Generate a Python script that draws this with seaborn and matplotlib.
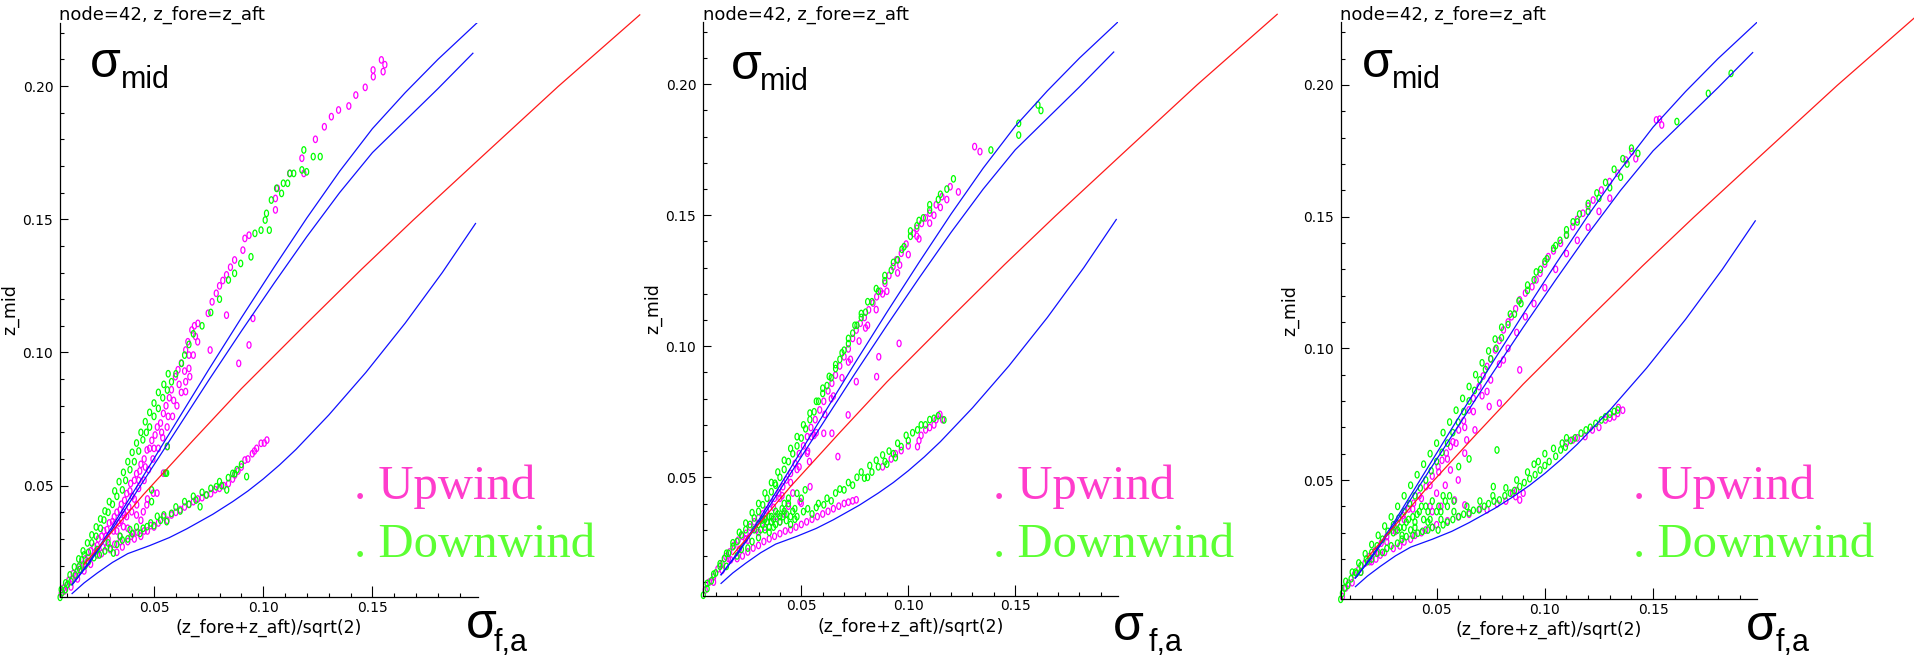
import matplotlib
matplotlib.use("Agg")
import matplotlib.pyplot as plt
import seaborn as sns
import pandas as pd
from matplotlib.path import Path
from matplotlib.transforms import Affine2D
from matplotlib.markers import MarkerStyle
from matplotlib.ticker import FixedLocator, MultipleLocator, FormatStrFormatter

# ---------------- text ----------------
title_text = "node=42, z_fore=z_aft"
xlabel_text = "(z_fore+z_aft)/sqrt(2)"
ylabel_text = "z_mid"
legend_labels = ["Upwind", "Downwind"]
x_major_ticks = [0.05, 0.10, 0.15]
y_major_ticks = [0.05, 0.10, 0.15, 0.20]

# ---------------- reference curves (same in all panels) ----------------
blue_a_x = [0.0125, 0.020, 0.030, 0.045, 0.060, 0.075, 0.090, 0.105, 0.120, 0.135, 0.150, 0.165, 0.180, 0.198]
blue_a_y = [0.0128, 0.0210, 0.0335, 0.0535, 0.0735, 0.0935, 0.1130, 0.1320, 0.1505, 0.1680, 0.1840, 0.1975, 0.2100, 0.2238]
blue_b_x = [0.0125, 0.020, 0.030, 0.045, 0.060, 0.075, 0.090, 0.105, 0.120, 0.135, 0.150, 0.165, 0.180, 0.196]
blue_b_y = [0.0128, 0.0205, 0.0325, 0.0515, 0.0705, 0.0895, 0.1080, 0.1260, 0.1435, 0.1600, 0.1750, 0.1870, 0.1990, 0.2123]
blue_c_x = [0.0125, 0.018, 0.024, 0.031, 0.038, 0.048, 0.057, 0.065, 0.077, 0.086, 0.093, 0.100, 0.1075, 0.115, 0.130, 0.147, 0.165, 0.182, 0.1972]
blue_c_y = [0.0095, 0.0135, 0.0172, 0.0212, 0.0245, 0.0275, 0.0305, 0.0338, 0.0393, 0.0440, 0.0480, 0.0525, 0.0578, 0.0636, 0.0765, 0.0925, 0.1110, 0.1300, 0.1484]
red_x = [0.018, 0.030, 0.045, 0.0679, 0.090, 0.120, 0.145, 0.1687, 0.200, 0.235, 0.2724]
red_y = [0.0205, 0.0320, 0.0465, 0.0670, 0.0864, 0.1110, 0.1312, 0.1497, 0.1734, 0.1998, 0.2267]

# ---------------- panel 1 scatter ----------------
up1 = [
    (0.0075,0.0095),(0.0085,0.0115),(0.0100,0.0125),(0.0110,0.0145),(0.0125,0.0150),(0.0130,0.0170),(0.0150,0.0180),
    (0.0160,0.0200),(0.0175,0.0205),(0.0185,0.0225),(0.0200,0.0230),(0.0210,0.0255),(0.0225,0.0270),(0.0240,0.0275),
    (0.0245,0.0300),(0.0260,0.0310),(0.0270,0.0330),(0.0285,0.0335),(0.0295,0.0360),(0.0310,0.0365),(0.0318,0.0383),
    (0.0330,0.0400),(0.0345,0.0410),(0.0350,0.0430),(0.0365,0.0445),(0.0375,0.0470),(0.0390,0.0480),(0.0393,0.0508),
    (0.0410,0.0520),(0.0420,0.0545),(0.0435,0.0555),(0.0440,0.0580),(0.0455,0.0600),(0.0468,0.0634),(0.0480,0.0640),
    (0.0490,0.0670),(0.0505,0.0690),(0.0515,0.0720),(0.0530,0.0735),(0.0543,0.0771),(0.0555,0.0800),(0.0570,0.0830),
    (0.0580,0.0860),(0.0598,0.0909),(0.0610,0.0935),(0.0625,0.0960),(0.0645,0.1009),(0.0655,0.1040),(0.0673,0.1084),
    (0.0685,0.1100),(0.0701,0.1109),(0.0748,0.1147),(0.0766,0.1190),(0.0785,0.1222),(0.0800,0.1250),(0.0815,0.1270),
    (0.0832,0.1291),(0.0850,0.1320),(0.0869,0.1347),(0.0907,0.1384),(0.0916,0.1428),(0.0935,0.1440),(0.1056,0.1535),
    (0.1056,0.1578),(0.1065,0.1616),(0.1121,0.1672),(0.1186,0.1672),(0.1177,0.1729),(0.1239,0.1800),(0.1280,0.1847),
    (0.1312,0.1885),(0.1345,0.1910),(0.1392,0.1925),(0.1424,0.1966),(0.1467,0.1995),(0.1504,0.2035),(0.1503,0.2060),
    (0.1549,0.2054),(0.1541,0.2098),(0.1557,0.2080),
    (0.0120,0.0120),(0.0150,0.0150),(0.0180,0.0180),(0.0210,0.0205),(0.0240,0.0240),(0.0265,0.0270),(0.0290,0.0300),
    (0.0315,0.0330),(0.0340,0.0360),(0.0365,0.0390),(0.0385,0.0420),(0.0410,0.0450),(0.0430,0.0490),(0.0455,0.0520),
    (0.0475,0.0560),(0.0495,0.0600),(0.0520,0.0640),(0.0540,0.0680),(0.0560,0.0720),(0.0585,0.0760),(0.0605,0.0800),
    (0.0625,0.0850),(0.0645,0.0890),(0.0660,0.0940),(0.0680,0.0990),(0.0700,0.1040),
    (0.0090,0.0105),(0.0140,0.0160),(0.0195,0.0215),(0.0235,0.0255),(0.0280,0.0310),(0.0320,0.0355),(0.0360,0.0400),
    (0.0400,0.0460),(0.0430,0.0520),(0.0460,0.0570),(0.0500,0.0640),(0.0535,0.0700),(0.0565,0.0760),(0.0590,0.0820),
    (0.0615,0.0880),(0.0640,0.0930),(0.0660,0.0990),(0.0690,0.1060),
    (0.0953,0.1128),(0.0832,0.1140),(0.0935,0.1028),(0.0888,0.0959),(0.0757,0.1009),(0.0664,0.0909),(0.0645,0.0853),
    (0.0561,0.0647),(0.0514,0.0472),(0.0360,0.0346),(0.0398,0.0402),(0.0421,0.0428),(0.0451,0.0402),(0.0467,0.0428),
    (0.0497,0.0472),(0.0543,0.0547),(0.0375,0.0384),(0.0344,0.0309),(0.0405,0.0321),(0.0330,0.0330),(0.0350,0.0370),
    (0.0380,0.0340),(0.0420,0.0390),(0.0440,0.0370),(0.0470,0.0450),
    (0.0300,0.0260),(0.0330,0.0250),(0.0355,0.0270),(0.0380,0.0290),(0.0410,0.0300),(0.0440,0.0310),(0.0470,0.0330),
    (0.0500,0.0345),(0.0543,0.0383),(0.0560,0.0370),(0.0600,0.0400),(0.0640,0.0420),(0.0680,0.0440),(0.0720,0.0455),
    (0.0760,0.0470),(0.0800,0.0490),(0.0841,0.0508),(0.0870,0.0540),(0.0900,0.0570),(0.0916,0.0596),(0.0950,0.0620),
    (0.0970,0.0640),(0.0990,0.0659),(0.1005,0.0660),(0.1017,0.0671),
    (0.0260,0.0245),(0.0285,0.0270),(0.0320,0.0280),(0.0345,0.0290),(0.0395,0.0310),(0.0425,0.0325),(0.0455,0.0330),
    (0.0485,0.0350),(0.0520,0.0360),(0.0580,0.0390),(0.0620,0.0410),(0.0660,0.0430),(0.0700,0.0450),(0.0740,0.0465),
    (0.0780,0.0485),(0.0820,0.0500),(0.0860,0.0525),(0.0885,0.0555),(0.0930,0.0600),(0.0960,0.0630),
]
dn1 = [
    (0.0070,0.0081),(0.0080,0.0100),(0.0095,0.0110),(0.0105,0.0130),(0.0120,0.0140),(0.0140,0.0165),(0.0155,0.0195),
    (0.0169,0.0221),(0.0180,0.0240),(0.0200,0.0250),(0.0215,0.0285),(0.0235,0.0310),(0.0255,0.0340),(0.0271,0.0371),
    (0.0290,0.0400),(0.0310,0.0430),(0.0330,0.0460),(0.0355,0.0484),(0.0370,0.0520),(0.0390,0.0560),(0.0410,0.0590),
    (0.0430,0.0630),(0.0449,0.0672),(0.0465,0.0700),(0.0480,0.0720),(0.0500,0.0760),(0.0520,0.0790),(0.0540,0.0830),
    (0.0561,0.0859),(0.0580,0.0890),(0.0600,0.0920),(0.0626,0.0959),(0.0640,0.0990),(0.0660,0.1030),(0.0680,0.1070),
    (0.0075,0.0110),(0.0095,0.0135),(0.0115,0.0165),(0.0135,0.0195),(0.0155,0.0225),(0.0175,0.0255),(0.0195,0.0285),
    (0.0215,0.0315),(0.0235,0.0345),(0.0255,0.0375),(0.0275,0.0405),(0.0295,0.0440),(0.0320,0.0480),(0.0340,0.0515),
    (0.0360,0.0550),(0.0380,0.0590),(0.0400,0.0625),(0.0420,0.0660),(0.0440,0.0700),(0.0460,0.0740),(0.0480,0.0775),
    (0.0500,0.0810),(0.0520,0.0850),(0.0545,0.0880),(0.0565,0.0920),
    (0.0720,0.1100),(0.0760,0.1150),(0.0800,0.1200),(0.0841,0.1272),(0.0869,0.1297),(0.0897,0.1334),(0.0944,0.1359),
    (0.0962,0.1447),(0.0990,0.1459),(0.1028,0.1459),(0.1009,0.1497),(0.1015,0.1522),(0.1037,0.1572),(0.1061,0.1616),
    (0.1084,0.1597),(0.1092,0.1635),(0.1112,0.1635),(0.1122,0.1672),(0.1140,0.1672),(0.1177,0.1685),(0.1199,0.1678),
    (0.1186,0.1760),(0.1229,0.1735),(0.1261,0.1735),
    (0.0561,0.0647),(0.0552,0.0547),(0.0489,0.0484),(0.0489,0.0440),(0.0558,0.0547),
    (0.0200,0.0215),(0.0225,0.0230),(0.0250,0.0240),(0.0275,0.0255),(0.0300,0.0265),(0.0314,0.0247),(0.0330,0.0280),
    (0.0355,0.0296),(0.0380,0.0300),(0.0400,0.0320),(0.0436,0.0321),(0.0468,0.0346),(0.0500,0.0350),(0.0530,0.0370),
    (0.0558,0.0365),(0.0580,0.0396),(0.0620,0.0405),(0.0660,0.0430),(0.0692,0.0446),(0.0711,0.0421),(0.0740,0.0465),
    (0.0785,0.0496),(0.0810,0.0500),(0.0833,0.0484),(0.0860,0.0546),(0.0880,0.0560),(0.0900,0.0580),(0.0924,0.0534),
    (0.0160,0.0185),(0.0185,0.0200),(0.0240,0.0260),(0.0290,0.0285),(0.0345,0.0310),(0.0390,0.0335),(0.0420,0.0345),
    (0.0450,0.0340),(0.0485,0.0360),(0.0515,0.0385),(0.0545,0.0390),(0.0600,0.0420),(0.0640,0.0440),(0.0680,0.0460),
    (0.0720,0.0475),(0.0760,0.0490),(0.0800,0.0515),(0.0840,0.0530),(0.0870,0.0545),
]

# ---------------- panel 2 scatter ----------------
up2 = [
    (0.0051,0.0070),(0.0070,0.0100),(0.0090,0.0120),(0.0110,0.0150),(0.0130,0.0170),(0.0147,0.0197),(0.0165,0.0215),
    (0.0185,0.0240),(0.0205,0.0260),(0.0225,0.0275),(0.0242,0.0286),(0.0260,0.0310),(0.0280,0.0330),(0.0300,0.0345),
    (0.0320,0.0360),(0.0337,0.0375),(0.0355,0.0400),(0.0375,0.0420),(0.0395,0.0440),(0.0414,0.0464),(0.0430,0.0490),
    (0.0450,0.0515),(0.0471,0.0553),(0.0490,0.0590),(0.0510,0.0620),(0.0528,0.0655),(0.0545,0.0690),(0.0565,0.0720),
    (0.0586,0.0757),(0.0605,0.0790),(0.0625,0.0830),(0.0643,0.0859),(0.0660,0.0890),(0.0680,0.0925),(0.0700,0.0960),
    (0.0720,0.0990),(0.0740,0.1030),(0.0757,0.1062),(0.0776,0.1088),(0.0795,0.1110),(0.0815,0.1139),(0.0835,0.1165),
    (0.0852,0.1189),(0.0870,0.1210),(0.0891,0.1240),(0.0910,0.1270),(0.0929,0.1304),(0.0945,0.1330),(0.0967,0.1355),
    (0.0990,0.1390),(0.1024,0.1431),(0.1040,0.1450),(0.1062,0.1469),(0.1080,0.1490),(0.1100,0.1508),(0.1130,0.1540),
    (0.1157,0.1571),(0.1196,0.1609),(0.1234,0.1589),(0.1180,0.1560),
    (0.0160,0.0190),(0.0240,0.0265),(0.0320,0.0340),(0.0400,0.0420),(0.0480,0.0530),(0.0560,0.0660),(0.0640,0.0800),
    (0.0720,0.0940),(0.0800,0.1070),(0.0880,0.1200),(0.0960,0.1310),(0.1040,0.1420),(0.1120,0.1500),
    (0.0090,0.0100),(0.0130,0.0145),(0.0170,0.0185),(0.0210,0.0225),(0.0250,0.0260),(0.0290,0.0300),(0.0330,0.0340),
    (0.0370,0.0385),(0.0410,0.0430),(0.0450,0.0480),(0.0490,0.0540),(0.0530,0.0600),(0.0570,0.0670),(0.0610,0.0740),
    (0.0650,0.0810),(0.0690,0.0880),(0.0730,0.0950),(0.0770,0.1020),(0.0810,0.1080),(0.0850,0.1140),(0.0900,0.1210),
    (0.0950,0.1280),(0.1000,0.1350),(0.1050,0.1410),(0.1100,0.1470),(0.1150,0.1530),
    (0.1310,0.1762),(0.1335,0.1743),
    (0.0957,0.1011),(0.0862,0.0960),(0.0852,0.0884),(0.0757,0.0865),(0.0719,0.0738),(0.0643,0.0668),(0.0605,0.0668),
    (0.0671,0.0579),(0.0547,0.0655),(0.0528,0.0592),(0.0538,0.0560),(0.0500,0.0401),(0.0494,0.0407),(0.0541,0.0464),
    (0.0460,0.0440),(0.0440,0.0390),(0.0420,0.0360),(0.0400,0.0330),(0.0360,0.0330),(0.0380,0.0350),(0.0330,0.0310),
    (0.0300,0.0290),
    (0.0200,0.0190),(0.0250,0.0215),(0.0300,0.0240),(0.0350,0.0265),(0.0400,0.0285),(0.0450,0.0300),(0.0500,0.0320),
    (0.0550,0.0340),(0.0600,0.0360),(0.0650,0.0380),(0.0700,0.0400),(0.0740,0.0410),(0.0757,0.0414),(0.0880,0.0540),
    (0.0920,0.0570),(0.0967,0.0602),(0.1000,0.0620),(0.1043,0.0617),(0.1081,0.0681),(0.1120,0.0700),(0.1148,0.0740),
    (0.1160,0.0720),
    (0.0225,0.0200),(0.0275,0.0230),(0.0325,0.0255),(0.0375,0.0275),(0.0425,0.0295),(0.0475,0.0310),(0.0525,0.0330),
    (0.0575,0.0350),(0.0625,0.0370),(0.0675,0.0390),(0.0720,0.0405),(0.1060,0.0660),(0.1100,0.0690),(0.1130,0.0720),
    (0.1050,0.0640),(0.0940,0.0590),
]
dn2 = [
    (0.0042,0.0050),(0.0060,0.0075),(0.0080,0.0105),(0.0100,0.0135),(0.0120,0.0160),(0.0140,0.0190),(0.0160,0.0210),
    (0.0180,0.0235),(0.0200,0.0255),(0.0220,0.0280),(0.0240,0.0300),(0.0260,0.0320),(0.0280,0.0345),(0.0300,0.0370),
    (0.0320,0.0395),(0.0340,0.0420),(0.0360,0.0445),(0.0380,0.0470),(0.0400,0.0500),(0.0420,0.0530),(0.0440,0.0560),
    (0.0460,0.0590),(0.0480,0.0620),(0.0500,0.0650),(0.0520,0.0685),(0.0540,0.0720),(0.0560,0.0750),(0.0580,0.0790),
    (0.0600,0.0820),(0.0620,0.0850),(0.0640,0.0880),(0.0660,0.0915),(0.0680,0.0950),(0.0700,0.0985),(0.0720,0.1010),
    (0.0740,0.1050),(0.0760,0.1080),(0.0780,0.1110),(0.0800,0.1130),(0.0830,0.1170),(0.0860,0.1210),(0.0890,0.1250),
    (0.0920,0.1290),(0.0950,0.1330),(0.0980,0.1380),(0.1010,0.1420),(0.1040,0.1460),(0.1070,0.1490),(0.1100,0.1520),
    (0.1140,0.1560),(0.1180,0.1600),(0.1211,0.1639),
    (0.0060,0.0095),(0.0090,0.0130),(0.0120,0.0170),(0.0150,0.0210),(0.0180,0.0250),(0.0210,0.0290),(0.0240,0.0325),
    (0.0270,0.0365),(0.0300,0.0400),(0.0330,0.0440),(0.0360,0.0480),(0.0390,0.0520),(0.0420,0.0565),(0.0450,0.0610),
    (0.0480,0.0655),(0.0510,0.0700),(0.0540,0.0745),(0.0570,0.0790),(0.0600,0.0840),(0.0630,0.0885),(0.0660,0.0930),
    (0.0690,0.0975),(0.0720,0.1030),(0.0750,0.1080),(0.0780,0.1125),(0.0810,0.1170),(0.0850,0.1220),(0.0890,0.1270),
    (0.0930,0.1320),(0.0970,0.1370),(0.1010,0.1440),(0.1050,0.1480),(0.1100,0.1540),(0.1150,0.1580),
    (0.1386,0.1749),(0.1516,0.1851),(0.1516,0.1806),(0.1606,0.1921),(0.1620,0.1900),
    (0.0480,0.0439),(0.0518,0.0452),(0.0440,0.0420),(0.0420,0.0400),(0.0300,0.0320),(0.0330,0.0340),(0.0360,0.0350),
    (0.0390,0.0360),(0.0420,0.0370),(0.0350,0.0310),(0.0400,0.0330),(0.0450,0.0350),(0.0470,0.0380),(0.0440,0.0400),
    (0.0500,0.0420),(0.0377,0.0477),(0.0280,0.0300),(0.0310,0.0300),(0.0340,0.0330),(0.0370,0.0340),(0.0400,0.0350),
    (0.0430,0.0360),(0.0460,0.0370),(0.0320,0.0320),(0.0350,0.0350),(0.0380,0.0370),(0.0410,0.0380),(0.0360,0.0330),
    (0.0150,0.0160),(0.0200,0.0200),(0.0250,0.0230),(0.0300,0.0270),(0.0318,0.0337),(0.0350,0.0290),(0.0380,0.0320),
    (0.0414,0.0350),(0.0450,0.0320),(0.0480,0.0350),(0.0510,0.0369),(0.0550,0.0360),(0.0580,0.0400),(0.0605,0.0395),
    (0.0640,0.0410),(0.0660,0.0440),(0.0700,0.0452),(0.0740,0.0470),(0.0795,0.0497),(0.0830,0.0520),(0.0860,0.0540),
    (0.0891,0.0560),(0.0930,0.0590),(0.0967,0.0617),(0.1000,0.0640),(0.1043,0.0681),(0.1080,0.0700),(0.1120,0.0725),
    (0.1167,0.0719),
    (0.0220,0.0225),(0.0270,0.0255),(0.0330,0.0300),(0.0370,0.0310),(0.0430,0.0335),(0.0470,0.0340),(0.0530,0.0380),
    (0.0570,0.0385),(0.0620,0.0420),(0.0680,0.0455),(0.0720,0.0480),(0.0760,0.0500),(0.0780,0.0520),(0.0820,0.0545),
    (0.0850,0.0565),(0.0880,0.0585),(0.0910,0.0600),(0.0950,0.0630),(0.0990,0.0660),(0.1020,0.0670),(0.1060,0.0700),
    (0.1100,0.0720),(0.1140,0.0735),(0.0810,0.0500),(0.0900,0.0550),(0.0940,0.0575),
]

# ---------------- panel 3 scatter ----------------
up3 = [
    (0.0065,0.0057),(0.0080,0.0090),(0.0093,0.0108),(0.0120,0.0140),(0.0140,0.0160),(0.0169,0.0184),(0.0190,0.0210),
    (0.0215,0.0230),(0.0244,0.0260),(0.0270,0.0285),(0.0295,0.0310),(0.0319,0.0336),(0.0345,0.0365),(0.0370,0.0390),
    (0.0394,0.0412),(0.0420,0.0440),(0.0451,0.0475),(0.0480,0.0515),(0.0507,0.0551),(0.0525,0.0575),(0.0545,0.0602),
    (0.0575,0.0645),(0.0602,0.0690),(0.0625,0.0725),(0.0649,0.0766),(0.0670,0.0810),(0.0696,0.0855),(0.0715,0.0895),
    (0.0733,0.0931),(0.0750,0.0960),(0.0771,0.0994),(0.0790,0.1030),(0.0809,0.1070),(0.0830,0.1100),(0.0846,0.1120),
    (0.0865,0.1150),(0.0884,0.1184),(0.0910,0.1210),(0.0941,0.1234),(0.0960,0.1260),(0.0978,0.1285),(0.1000,0.1320),
    (0.1016,0.1348),(0.1040,0.1370),(0.1073,0.1399),(0.1100,0.1430),(0.1129,0.1462),(0.1150,0.1490),(0.1176,0.1513),
    (0.1200,0.1540),(0.1223,0.1563),(0.1261,0.1601),(0.1299,0.1633),(0.1337,0.1665),(0.1374,0.1715),(0.1402,0.1747),
    (0.1420,0.1720),(0.1515,0.1867),(0.1540,0.1848),(0.1530,0.1870),
    (0.0110,0.0110),(0.0150,0.0150),(0.0190,0.0190),(0.0230,0.0225),(0.0270,0.0265),(0.0310,0.0305),(0.0350,0.0350),
    (0.0390,0.0390),(0.0430,0.0430),(0.0470,0.0480),(0.0510,0.0530),(0.0550,0.0580),(0.0590,0.0640),(0.0630,0.0700),
    (0.0670,0.0760),(0.0710,0.0820),(0.0750,0.0880),(0.0790,0.0940),(0.0830,0.1000),(0.0870,0.1060),(0.0910,0.1120),
    (0.0950,0.1170),(0.1000,0.1230),(0.1050,0.1300),(0.1100,0.1360),(0.1150,0.1410),(0.1200,0.1460),(0.1250,0.1520),
    (0.1300,0.1570),
    (0.0884,0.0918),(0.0809,0.0956),(0.0733,0.0836),(0.0743,0.0779),(0.0677,0.0690),(0.0639,0.0652),(0.0630,0.0602),
    (0.0564,0.0627),(0.0564,0.0538),(0.0583,0.0424),(0.0630,0.0405),(0.0790,0.0792),(0.0600,0.0500),(0.0540,0.0480),
    (0.0500,0.0450),(0.0470,0.0400),(0.0480,0.0380),(0.0520,0.0400),(0.0200,0.0190),(0.0220,0.0200),(0.0240,0.0215),
    (0.0300,0.0240),(0.0350,0.0265),(0.0400,0.0290),(0.0450,0.0310),(0.0500,0.0330),(0.0600,0.0360),(0.0700,0.0390),
    (0.0733,0.0387),(0.0780,0.0410),(0.0865,0.0437),(0.0884,0.0424),(0.0900,0.0450),(0.1100,0.0640),(0.1129,0.0652),
    (0.1186,0.0665),(0.1250,0.0700),(0.1280,0.0728),(0.1320,0.0740),(0.1337,0.0753),(0.1340,0.0775),(0.1360,0.0765),
    (0.0260,0.0225),(0.0330,0.0250),(0.0380,0.0275),(0.0430,0.0300),(0.0480,0.0320),(0.0550,0.0345),(0.0650,0.0370),
    (0.0820,0.0420),(0.0850,0.0450),(0.0870,0.0460),(0.1150,0.0660),(0.1220,0.0690),(0.1300,0.0735),
]
dn3 = [
    (0.0057,0.0047),(0.0065,0.0070),(0.0075,0.0090),(0.0090,0.0100),(0.0105,0.0125),(0.0125,0.0150),(0.0150,0.0175),
    (0.0175,0.0200),(0.0200,0.0225),(0.0225,0.0250),(0.0250,0.0275),(0.0275,0.0305),(0.0300,0.0330),(0.0325,0.0355),
    (0.0350,0.0380),(0.0375,0.0410),(0.0400,0.0440),(0.0425,0.0470),(0.0450,0.0500),(0.0475,0.0535),(0.0500,0.0570),
    (0.0525,0.0605),(0.0550,0.0640),(0.0575,0.0680),(0.0600,0.0720),(0.0625,0.0760),(0.0650,0.0800),(0.0675,0.0840),
    (0.0700,0.0880),(0.0725,0.0920),(0.0750,0.0960),(0.0775,0.1000),(0.0800,0.1040),(0.0830,0.1090),(0.0860,0.1130),
    (0.0890,0.1170),(0.0920,0.1220),(0.0950,0.1260),(0.0980,0.1300),(0.1010,0.1340),(0.1040,0.1380),(0.1070,0.1410),
    (0.1100,0.1450),(0.1130,0.1480),(0.1160,0.1510),(0.1200,0.1550),(0.1240,0.1590),(0.1280,0.1630),(0.1320,0.1680),
    (0.1360,0.1720),(0.1400,0.1760),(0.1610,0.1861),(0.1755,0.1968),(0.1860,0.2044),
    (0.0080,0.0115),(0.0110,0.0150),(0.0140,0.0185),(0.0170,0.0220),(0.0200,0.0255),(0.0230,0.0290),(0.0260,0.0325),
    (0.0290,0.0360),(0.0320,0.0400),(0.0350,0.0440),(0.0380,0.0480),(0.0410,0.0520),(0.0440,0.0560),(0.0470,0.0600),
    (0.0500,0.0640),(0.0530,0.0680),(0.0560,0.0720),(0.0590,0.0765),(0.0620,0.0810),(0.0650,0.0855),(0.0680,0.0900),
    (0.0710,0.0945),(0.0740,0.0990),(0.0770,0.1035),(0.0800,0.1080),(0.0840,0.1130),(0.0880,0.1180),(0.0920,0.1240),
    (0.0960,0.1290),(0.1000,0.1330),(0.1050,0.1390),(0.1100,0.1430),(0.1150,0.1480),(0.1200,0.1520),(0.1250,0.1570),
    (0.1300,0.1610),(0.1350,0.1650),(0.1380,0.1700),(0.1430,0.1740),
    (0.0779,0.0614),(0.0602,0.0551),(0.0762,0.0475),(0.0650,0.0580),(0.0300,0.0300),(0.0330,0.0320),(0.0360,0.0340),
    (0.0390,0.0360),(0.0420,0.0380),(0.0450,0.0400),(0.0480,0.0420),(0.0510,0.0400),(0.0540,0.0420),(0.0440,0.0350),
    (0.0380,0.0310),(0.0340,0.0290),(0.0500,0.0380),(0.0560,0.0440),(0.0320,0.0310),(0.0350,0.0320),(0.0400,0.0340),
    (0.0410,0.0370),(0.0460,0.0380),(0.0470,0.0350),(0.0520,0.0380),(0.0550,0.0400),(0.0580,0.0420),(0.0530,0.0440),
    (0.0370,0.0350),(0.0430,0.0400),
    (0.0130,0.0146),(0.0180,0.0190),(0.0224,0.0222),(0.0270,0.0240),(0.0319,0.0260),(0.0360,0.0285),(0.0413,0.0298),
    (0.0460,0.0310),(0.0507,0.0310),(0.0550,0.0340),(0.0602,0.0361),(0.0650,0.0375),(0.0696,0.0387),(0.0740,0.0410),
    (0.0790,0.0424),(0.0840,0.0450),(0.0884,0.0475),(0.0930,0.0505),(0.0950,0.0560),(0.0978,0.0538),(0.1000,0.0600),
    (0.1020,0.0570),(0.1073,0.0614),(0.1080,0.0640),(0.1120,0.0650),(0.1167,0.0678),(0.1210,0.0700),(0.1261,0.0728),
    (0.1300,0.0750),(0.1337,0.0766),
    (0.0150,0.0150),(0.0200,0.0200),(0.0250,0.0225),(0.0290,0.0250),(0.0340,0.0275),(0.0390,0.0290),(0.0435,0.0305),
    (0.0480,0.0320),(0.0530,0.0330),(0.0575,0.0350),(0.0625,0.0370),(0.0670,0.0385),(0.0720,0.0400),(0.0765,0.0420),
    (0.0815,0.0440),(0.0860,0.0460),(0.0905,0.0490),(0.0955,0.0520),(0.1000,0.0555),(0.1050,0.0590),(0.1095,0.0625),
    (0.1140,0.0660),(0.1190,0.0690),(0.1235,0.0715),(0.1280,0.0740),(0.1320,0.0760),
    (0.0400,0.0320),(0.0460,0.0340),(0.0520,0.0350),(0.0580,0.0380),(0.0640,0.0400),(0.0700,0.0420),(0.0760,0.0440),
    (0.0820,0.0470),(0.0870,0.0500),(0.0920,0.0530),(0.0970,0.0570),(0.1040,0.0620),(0.1100,0.0660),
]

upwind_sets = [up1, up2, up3]
downwind_sets = [dn1, dn2, dn3]
xlims = [(0.0071, 0.1982), (0.0042, 0.198), (0.0057, 0.198)]
ylims = [(0.0081, 0.2238), (0.0047, 0.2238), (0.0047, 0.2238)]

# ---------------- layout (figure pixels) ----------------
W, H = 1915, 657
boxes = [(60.3, 22.6, 477.7, 597.3), (703.3, 21.9, 1118.0, 596.0), (1340.7, 22.3, 1757.0, 599.3)]
title_pos = [(59, 20), (703, 20), (1339.5, 20)]
smid_pos = [(90, 77, 121, 88), (731, 79, 760, 90), (1362, 77, 1392, 88)]
sfa_pos = [(466, 638, 494, 651), (1113, 640, 1149, 651), (1746, 640, 1776, 651)]
legend_x = [354, 993, 1633]

C_UP_PT, C_DN_PT = "#ff00ff", "#00ff00"
C_UP_TX, C_DN_TX = "#ff3ccc", "#5cff33"
C_BLUE, C_RED = "#1010ff", "#ff1a1a"

ell = Path.unit_circle().transformed(Affine2D().scale(0.62, 1.0))
mk = MarkerStyle(ell)

fig = plt.figure(figsize=(W / 100, H / 100), dpi=100)
plt.rcParams["font.family"] = ["DejaVu Sans"]


def fx(px):
    return px / W


def fy(py):
    return 1 - py / H


for i in range(3):
    l, t, r, b = boxes[i]
    ax = fig.add_axes([fx(l), fy(b), (r - l) / W, (b - t) / H])
    up = pd.DataFrame(upwind_sets[i], columns=["x", "y"])
    dn = pd.DataFrame(downwind_sets[i], columns=["x", "y"])
    sns.scatterplot(data=up, x="x", y="y", ax=ax, marker=mk, s=22, color=C_UP_PT,
                    facecolor="none", edgecolor=C_UP_PT, linewidth=0.9, legend=False,
                    zorder=2, clip_on=False)
    sns.scatterplot(data=dn, x="x", y="y", ax=ax, marker=mk, s=22, color=C_DN_PT,
                    facecolor="none", edgecolor=C_DN_PT, linewidth=0.9, legend=False,
                    zorder=2, clip_on=False)
    for cx, cy in [(blue_a_x, blue_a_y), (blue_b_x, blue_b_y), (blue_c_x, blue_c_y)]:
        sns.lineplot(x=cx, y=cy, ax=ax, color=C_BLUE, lw=0.9, sort=False, estimator=None,
                     legend=False, zorder=3)
    sns.lineplot(x=red_x, y=red_y, ax=ax, color=C_RED, lw=0.9, sort=False, estimator=None,
                 legend=False, zorder=3, clip_on=False)

    ax.set_xlim(*xlims[i])
    ax.set_ylim(*ylims[i])
    ax.set_facecolor("none")
    for s in ["top", "right"]:
        ax.spines[s].set_visible(False)
    for s in ["left", "bottom"]:
        ax.spines[s].set_linewidth(0.9)
        ax.spines[s].set_color("black")
    ax.xaxis.set_major_locator(FixedLocator(x_major_ticks))
    ax.yaxis.set_major_locator(FixedLocator(y_major_ticks))
    ax.xaxis.set_minor_locator(MultipleLocator(0.01))
    ax.yaxis.set_minor_locator(MultipleLocator(0.01))
    ax.xaxis.set_major_formatter(FormatStrFormatter("%.2f"))
    ax.yaxis.set_major_formatter(FormatStrFormatter("%.2f"))
    ax.tick_params(axis="x", which="major", direction="in", length=7.8, width=0.8,
                   labelsize=10, pad=2.5, colors="black")
    ax.tick_params(axis="x", which="minor", direction="in", length=3.2, width=0.8)
    ax.tick_params(axis="y", which="major", direction="in", length=6, width=0.8,
                   labelsize=10, pad=5, colors="black")
    ax.tick_params(axis="y", which="minor", direction="in", length=3, width=0.8)
    ax.set_xlabel(xlabel_text, fontsize=12.5, labelpad=3)
    ax.set_ylabel(ylabel_text, fontsize=12.5, labelpad=2.5)

    tx, ty = title_pos[i]
    fig.text(fx(tx), fy(ty), title_text, fontsize=13, ha="left", va="baseline")

    sx, sy, mx, my = smid_pos[i]
    fig.text(fx(sx), fy(sy), "σ", fontsize=36, family="Liberation Sans", va="baseline")
    fig.text(fx(mx), fy(my), "mid", fontsize=22, family="Liberation Sans", va="baseline")
    sx, sy, mx, my = sfa_pos[i]
    fig.text(fx(sx), fy(sy), "σ", fontsize=36, family="Liberation Sans", va="baseline")
    fig.text(fx(mx), fy(my), "f,a", fontsize=22, family="Liberation Sans", va="baseline")

    lx = legend_x[i]
    fig.text(fx(lx), fy(499), ". " + legend_labels[0], fontsize=35,
             family="Liberation Serif", color=C_UP_TX, va="baseline")
    fig.text(fx(lx), fy(557), ". " + legend_labels[1], fontsize=35,
             family="Liberation Serif", color=C_DN_TX, va="baseline")

fig.savefig("out.png", dpi=100)
